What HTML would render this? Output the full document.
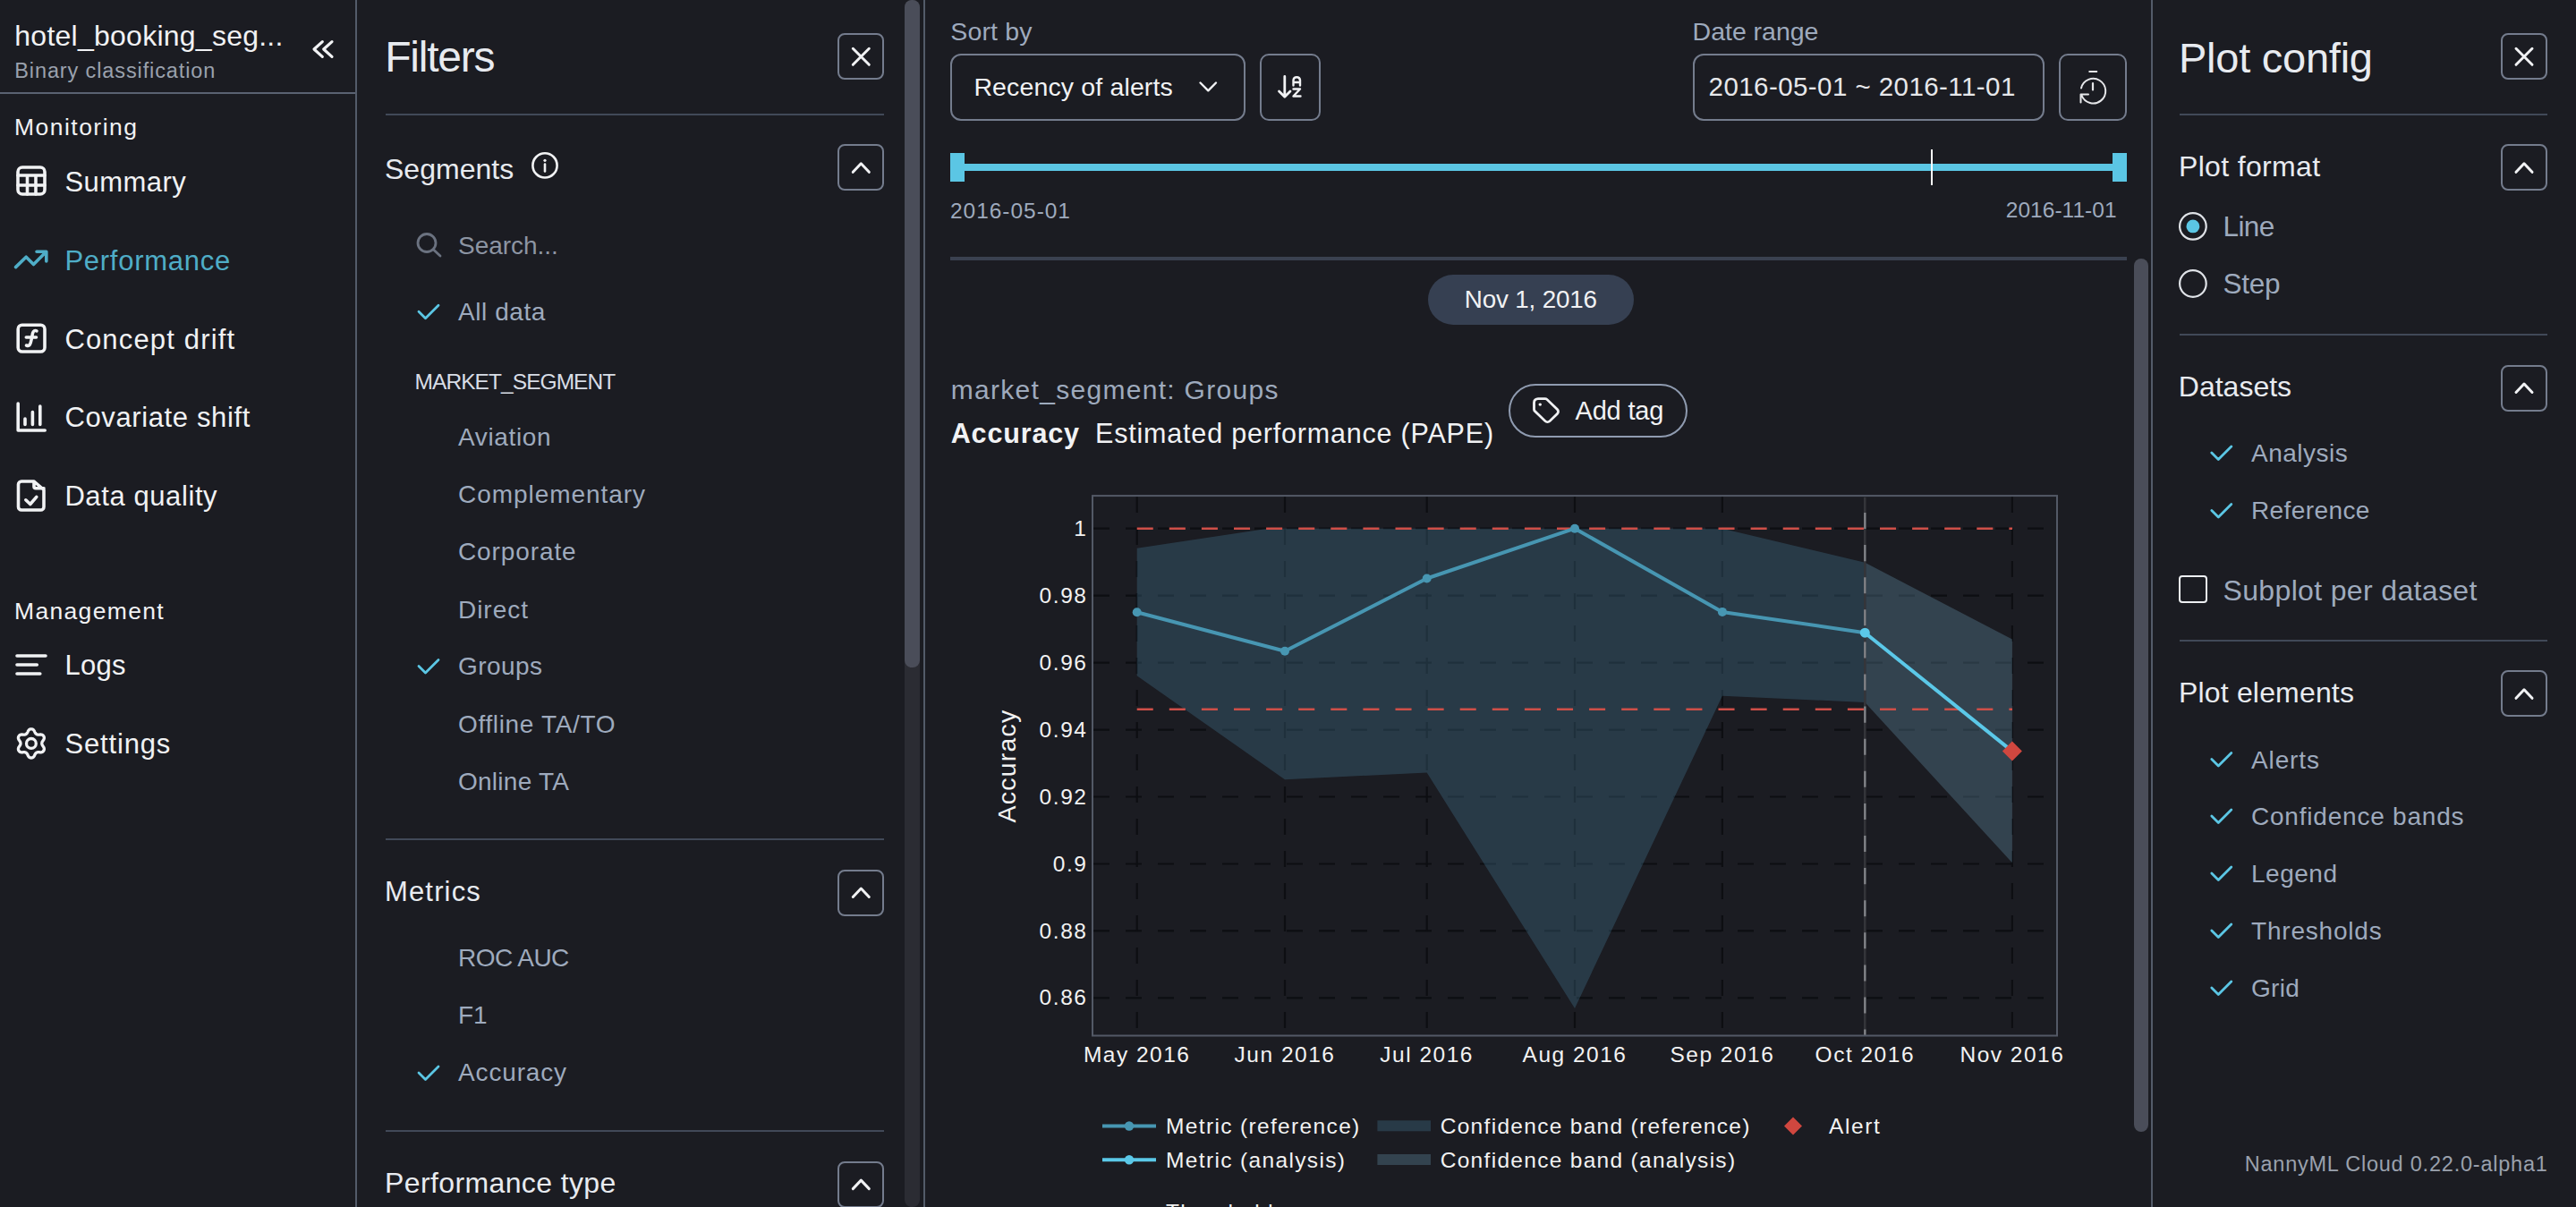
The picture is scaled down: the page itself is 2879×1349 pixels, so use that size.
<!DOCTYPE html><html><head><meta charset="utf-8"><style>
html,body{margin:0;padding:0;}
body{width:2879px;height:1349px;overflow:hidden;background:#1b1c22;position:relative;font-family:"Liberation Sans",sans-serif;}
.t{position:absolute;white-space:pre;line-height:1;}
svg{display:block}
</style></head><body>
<div style="position:absolute;left:397.0px;top:0.0px;width:2.0px;height:1349.0px;background:#535b69"></div>
<div class="t" style="left:16.3px;top:23.9px;font-size:32px;color:#f1f2f4;font-weight:400;letter-spacing:0.25px;">hotel_booking_seg...</div>
<div class="t" style="left:16.3px;top:68.0px;font-size:23.5px;color:#9aa1ad;font-weight:400;letter-spacing:0.88px;">Binary classification</div>
<div style="position:absolute;left:0.0px;top:103.0px;width:397.0px;height:2.0px;background:#5a6272"></div>
<svg style="position:absolute;left:0px;top:0px;overflow:visible;" width="1" height="1" viewBox="0 0 1 1"><path d="M360.3 46.6 L351 55 L360.3 63.4 M371 46.6 L361.7 55 L371 63.4" fill="none" stroke="#f1f2f4" stroke-width="3.2" stroke-linecap="round" stroke-linejoin="round"/></svg>
<div class="t" style="left:16.0px;top:128.6px;font-size:26.5px;color:#f1f2f4;font-weight:400;letter-spacing:1.47px;">Monitoring</div>
<div class="t" style="left:72.4px;top:188.0px;font-size:31px;color:#f1f2f4;font-weight:400;letter-spacing:0.44px;">Summary</div>
<div class="t" style="left:72.4px;top:275.5px;font-size:31px;color:#4fadc7;font-weight:400;letter-spacing:0.73px;">Performance</div>
<div class="t" style="left:72.4px;top:363.5px;font-size:31px;color:#f1f2f4;font-weight:400;letter-spacing:1.17px;">Concept drift</div>
<div class="t" style="left:72.4px;top:451.3px;font-size:31px;color:#f1f2f4;font-weight:400;letter-spacing:0.63px;">Covariate shift</div>
<div class="t" style="left:72.4px;top:538.8px;font-size:31px;color:#f1f2f4;font-weight:400;letter-spacing:0.59px;">Data quality</div>
<div class="t" style="left:16.0px;top:670.2px;font-size:26.5px;color:#f1f2f4;font-weight:400;letter-spacing:1.33px;">Management</div>
<div class="t" style="left:72.4px;top:728.2px;font-size:31px;color:#f1f2f4;font-weight:400;letter-spacing:0.29px;">Logs</div>
<div class="t" style="left:72.4px;top:816.3px;font-size:31px;color:#f1f2f4;font-weight:400;letter-spacing:0.85px;">Settings</div>
<svg style="position:absolute;left:0px;top:0px;overflow:visible;" width="1" height="1" viewBox="0 0 1 1"><rect x="20" y="187" width="30" height="30" rx="5" fill="none" stroke="#f1f2f4" stroke-width="3.6" stroke-linecap="round" stroke-linejoin="round"/><path d="M20 196 H50 M20 207 H50 M30.5 196 V217 M40 196 V217" fill="none" stroke="#f1f2f4" stroke-width="3.6" stroke-linecap="round" stroke-linejoin="round"/></svg>
<svg style="position:absolute;left:0px;top:0px;overflow:visible;" width="1" height="1" viewBox="0 0 1 1"><path d="M17.5 298.6 L29.2 287.2 L37.5 295.5 L51.5 281.5 M41 281.3 H51.8 V292" fill="none" stroke="#4fadc7" stroke-width="3.6" stroke-linecap="round" stroke-linejoin="round"/></svg>
<svg style="position:absolute;left:0px;top:0px;overflow:visible;" width="1" height="1" viewBox="0 0 1 1"><rect x="20.2" y="363.2" width="29.8" height="29.8" rx="4.5" fill="none" stroke="#f1f2f4" stroke-width="3.6" stroke-linecap="round" stroke-linejoin="round"/><path d="M29.5 386 C33 387.5 34 385 35 380 L36.5 372.5 C37.3 369.5 39 369 41 369.8 M29.3 377 H40.5" fill="none" stroke="#f1f2f4" stroke-width="3.6" stroke-linecap="round" stroke-linejoin="round" /></svg>
<svg style="position:absolute;left:0px;top:0px;overflow:visible;" width="1" height="1" viewBox="0 0 1 1"><path d="M20.2 451 V481 H50.2 M28 468 V474.5 M36.4 460.5 V474.5 M44.8 454 V474.5" fill="none" stroke="#f1f2f4" stroke-width="3.6" stroke-linecap="round" stroke-linejoin="round"/></svg>
<svg style="position:absolute;left:0px;top:0px;overflow:visible;" width="1" height="1" viewBox="0 0 1 1"><path d="M38 538 H24 A3.5 3.5 0 0 0 20.5 541.5 V566.5 A3.5 3.5 0 0 0 24 570 H45.5 A3.5 3.5 0 0 0 49 566.5 V547.5 Z M38 538 V543.8 A2 2 0 0 0 40 545.8 H49 M28.8 558.8 L33.8 563.5 L40.8 555.4" fill="none" stroke="#f1f2f4" stroke-width="3.6" stroke-linecap="round" stroke-linejoin="round"/></svg>
<svg style="position:absolute;left:0px;top:0px;overflow:visible;" width="1" height="1" viewBox="0 0 1 1"><path d="M19 733 H51 M19 743 H41.3 M19 753 H44.8" fill="none" stroke="#f1f2f4" stroke-width="3.6" stroke-linecap="round" stroke-linejoin="round"/></svg>
<svg style="position:absolute;left:0px;top:0px;overflow:visible;" width="1" height="1" viewBox="0 0 1 1"><polygon points="34.90,814.80 35.04,814.80 35.18,814.81 35.32,814.82 35.46,814.84 35.60,814.86 35.74,814.89 35.88,814.92 36.01,814.96 36.15,815.00 36.29,815.05 36.42,815.10 36.55,815.16 36.69,815.23 36.81,815.30 36.94,815.38 37.07,815.47 37.19,815.57 37.31,815.67 37.43,815.78 37.55,815.89 37.66,816.02 37.77,816.15 37.87,816.29 37.98,816.43 38.08,816.58 38.17,816.73 38.26,816.89 38.35,817.05 38.44,817.21 38.52,817.38 38.60,817.54 38.68,817.71 38.76,817.87 38.83,818.03 38.91,818.19 38.98,818.34 39.05,818.49 39.12,818.63 39.19,818.77 39.27,818.91 39.34,819.03 39.41,819.16 39.48,819.27 39.55,819.38 39.63,819.49 39.70,819.59 39.78,819.69 39.85,819.78 39.93,819.86 40.01,819.95 40.09,820.02 40.17,820.10 40.25,820.17 40.33,820.24 40.42,820.30 40.50,820.37 40.59,820.43 40.67,820.49 40.76,820.54 40.85,820.59 40.94,820.65 41.03,820.69 41.13,820.74 41.22,820.78 41.32,820.83 41.42,820.87 41.52,820.90 41.62,820.94 41.73,820.97 41.83,821.00 41.94,821.03 42.06,821.05 42.17,821.07 42.29,821.09 42.42,821.10 42.55,821.11 42.68,821.12 42.82,821.12 42.96,821.13 43.10,821.12 43.25,821.12 43.41,821.11 43.57,821.10 43.74,821.09 43.91,821.07 44.08,821.06 44.25,821.04 44.43,821.03 44.62,821.01 44.80,821.00 44.98,820.99 45.17,820.98 45.35,820.98 45.54,820.98 45.72,820.99 45.89,821.00 46.07,821.02 46.24,821.04 46.41,821.07 46.57,821.11 46.73,821.15 46.88,821.20 47.03,821.25 47.18,821.31 47.32,821.37 47.45,821.44 47.58,821.52 47.70,821.60 47.82,821.68 47.93,821.77 48.04,821.87 48.15,821.96 48.25,822.06 48.35,822.17 48.44,822.27 48.53,822.38 48.61,822.50 48.69,822.61 48.77,822.73 48.84,822.85 48.91,822.97 48.98,823.10 49.03,823.23 49.09,823.35 49.14,823.49 49.19,823.62 49.23,823.76 49.27,823.89 49.30,824.03 49.32,824.18 49.34,824.32 49.36,824.46 49.36,824.61 49.36,824.76 49.36,824.91 49.34,825.06 49.32,825.22 49.30,825.37 49.26,825.53 49.22,825.69 49.17,825.85 49.11,826.01 49.04,826.17 48.97,826.33 48.89,826.49 48.81,826.65 48.72,826.81 48.62,826.97 48.52,827.12 48.42,827.28 48.32,827.43 48.22,827.58 48.11,827.73 48.01,827.87 47.91,828.02 47.82,828.15 47.72,828.29 47.63,828.42 47.55,828.56 47.47,828.68 47.39,828.81 47.32,828.93 47.26,829.05 47.20,829.17 47.15,829.29 47.10,829.40 47.05,829.52 47.01,829.63 46.97,829.74 46.94,829.85 46.91,829.95 46.89,830.06 46.87,830.17 46.85,830.27 46.83,830.38 46.82,830.48 46.81,830.59 46.81,830.69 46.80,830.80 46.80,830.90 46.80,831.00 46.81,831.11 46.81,831.21 46.82,831.32 46.83,831.42 46.85,831.53 46.87,831.63 46.89,831.74 46.91,831.85 46.94,831.95 46.97,832.06 47.01,832.17 47.05,832.28 47.10,832.40 47.15,832.51 47.20,832.63 47.26,832.75 47.32,832.87 47.39,832.99 47.47,833.12 47.55,833.24 47.63,833.38 47.72,833.51 47.82,833.65 47.91,833.78 48.01,833.93 48.11,834.07 48.22,834.22 48.32,834.37 48.42,834.52 48.52,834.68 48.62,834.83 48.72,834.99 48.81,835.15 48.89,835.31 48.97,835.47 49.04,835.63 49.11,835.79 49.17,835.95 49.22,836.11 49.26,836.27 49.30,836.43 49.32,836.58 49.34,836.74 49.36,836.89 49.36,837.04 49.36,837.19 49.36,837.34 49.34,837.48 49.32,837.62 49.30,837.77 49.27,837.91 49.23,838.04 49.19,838.18 49.14,838.31 49.09,838.45 49.03,838.57 48.98,838.70 48.91,838.83 48.84,838.95 48.77,839.07 48.69,839.19 48.61,839.30 48.53,839.42 48.44,839.53 48.35,839.63 48.25,839.74 48.15,839.84 48.04,839.93 47.93,840.03 47.82,840.12 47.70,840.20 47.58,840.28 47.45,840.36 47.32,840.43 47.18,840.49 47.03,840.55 46.88,840.60 46.73,840.65 46.57,840.69 46.41,840.73 46.24,840.76 46.07,840.78 45.89,840.80 45.72,840.81 45.54,840.82 45.35,840.82 45.17,840.82 44.98,840.81 44.80,840.80 44.62,840.79 44.43,840.77 44.25,840.76 44.08,840.74 43.91,840.73 43.74,840.71 43.57,840.70 43.41,840.69 43.25,840.68 43.10,840.68 42.96,840.67 42.82,840.68 42.68,840.68 42.55,840.69 42.42,840.70 42.29,840.71 42.17,840.73 42.06,840.75 41.94,840.77 41.83,840.80 41.73,840.83 41.62,840.86 41.52,840.90 41.42,840.93 41.32,840.97 41.22,841.02 41.13,841.06 41.03,841.11 40.94,841.15 40.85,841.21 40.76,841.26 40.67,841.31 40.59,841.37 40.50,841.43 40.42,841.50 40.33,841.56 40.25,841.63 40.17,841.70 40.09,841.78 40.01,841.85 39.93,841.94 39.85,842.02 39.78,842.11 39.70,842.21 39.63,842.31 39.55,842.42 39.48,842.53 39.41,842.64 39.34,842.77 39.27,842.89 39.19,843.03 39.12,843.17 39.05,843.31 38.98,843.46 38.91,843.61 38.83,843.77 38.76,843.93 38.68,844.09 38.60,844.26 38.52,844.42 38.44,844.59 38.35,844.75 38.26,844.91 38.17,845.07 38.08,845.22 37.98,845.37 37.87,845.51 37.77,845.65 37.66,845.78 37.55,845.91 37.43,846.02 37.31,846.13 37.19,846.23 37.07,846.33 36.94,846.42 36.81,846.50 36.69,846.57 36.55,846.64 36.42,846.70 36.29,846.75 36.15,846.80 36.01,846.84 35.88,846.88 35.74,846.91 35.60,846.94 35.46,846.96 35.32,846.98 35.18,846.99 35.04,847.00 34.90,847.00 34.76,847.00 34.62,846.99 34.48,846.98 34.34,846.96 34.20,846.94 34.06,846.91 33.92,846.88 33.79,846.84 33.65,846.80 33.51,846.75 33.38,846.70 33.25,846.64 33.11,846.57 32.99,846.50 32.86,846.42 32.73,846.33 32.61,846.23 32.49,846.13 32.37,846.02 32.25,845.91 32.14,845.78 32.03,845.65 31.93,845.51 31.82,845.37 31.72,845.22 31.63,845.07 31.54,844.91 31.45,844.75 31.36,844.59 31.28,844.42 31.20,844.26 31.12,844.09 31.04,843.93 30.97,843.77 30.89,843.61 30.82,843.46 30.75,843.31 30.68,843.17 30.61,843.03 30.53,842.89 30.46,842.77 30.39,842.64 30.32,842.53 30.25,842.42 30.17,842.31 30.10,842.21 30.02,842.11 29.95,842.02 29.87,841.94 29.79,841.85 29.71,841.78 29.63,841.70 29.55,841.63 29.47,841.56 29.38,841.50 29.30,841.43 29.21,841.37 29.13,841.31 29.04,841.26 28.95,841.21 28.86,841.15 28.77,841.11 28.67,841.06 28.58,841.02 28.48,840.97 28.38,840.93 28.28,840.90 28.18,840.86 28.07,840.83 27.97,840.80 27.86,840.77 27.74,840.75 27.63,840.73 27.51,840.71 27.38,840.70 27.25,840.69 27.12,840.68 26.98,840.68 26.84,840.67 26.70,840.68 26.55,840.68 26.39,840.69 26.23,840.70 26.06,840.71 25.89,840.73 25.72,840.74 25.55,840.76 25.37,840.77 25.18,840.79 25.00,840.80 24.82,840.81 24.63,840.82 24.45,840.82 24.26,840.82 24.08,840.81 23.91,840.80 23.73,840.78 23.56,840.76 23.39,840.73 23.23,840.69 23.07,840.65 22.92,840.60 22.77,840.55 22.62,840.49 22.48,840.43 22.35,840.36 22.22,840.28 22.10,840.20 21.98,840.12 21.87,840.03 21.76,839.93 21.65,839.84 21.55,839.74 21.45,839.63 21.36,839.53 21.27,839.42 21.19,839.30 21.11,839.19 21.03,839.07 20.96,838.95 20.89,838.83 20.82,838.70 20.77,838.57 20.71,838.45 20.66,838.31 20.61,838.18 20.57,838.04 20.53,837.91 20.50,837.77 20.48,837.62 20.46,837.48 20.44,837.34 20.44,837.19 20.44,837.04 20.44,836.89 20.46,836.74 20.48,836.58 20.50,836.43 20.54,836.27 20.58,836.11 20.63,835.95 20.69,835.79 20.76,835.63 20.83,835.47 20.91,835.31 20.99,835.15 21.08,834.99 21.18,834.83 21.28,834.68 21.38,834.52 21.48,834.37 21.58,834.22 21.69,834.07 21.79,833.93 21.89,833.78 21.98,833.65 22.08,833.51 22.17,833.38 22.25,833.24 22.33,833.12 22.41,832.99 22.48,832.87 22.54,832.75 22.60,832.63 22.65,832.51 22.70,832.40 22.75,832.28 22.79,832.17 22.83,832.06 22.86,831.95 22.89,831.85 22.91,831.74 22.93,831.63 22.95,831.53 22.97,831.42 22.98,831.32 22.99,831.21 22.99,831.11 23.00,831.00 23.00,830.90 23.00,830.80 22.99,830.69 22.99,830.59 22.98,830.48 22.97,830.38 22.95,830.27 22.93,830.17 22.91,830.06 22.89,829.95 22.86,829.85 22.83,829.74 22.79,829.63 22.75,829.52 22.70,829.40 22.65,829.29 22.60,829.17 22.54,829.05 22.48,828.93 22.41,828.81 22.33,828.68 22.25,828.56 22.17,828.42 22.08,828.29 21.98,828.15 21.89,828.02 21.79,827.87 21.69,827.73 21.58,827.58 21.48,827.43 21.38,827.28 21.28,827.12 21.18,826.97 21.08,826.81 20.99,826.65 20.91,826.49 20.83,826.33 20.76,826.17 20.69,826.01 20.63,825.85 20.58,825.69 20.54,825.53 20.50,825.37 20.48,825.22 20.46,825.06 20.44,824.91 20.44,824.76 20.44,824.61 20.44,824.46 20.46,824.32 20.48,824.18 20.50,824.03 20.53,823.89 20.57,823.76 20.61,823.62 20.66,823.49 20.71,823.35 20.77,823.23 20.82,823.10 20.89,822.97 20.96,822.85 21.03,822.73 21.11,822.61 21.19,822.50 21.27,822.38 21.36,822.27 21.45,822.17 21.55,822.06 21.65,821.96 21.76,821.87 21.87,821.77 21.98,821.68 22.10,821.60 22.22,821.52 22.35,821.44 22.48,821.37 22.62,821.31 22.77,821.25 22.92,821.20 23.07,821.15 23.23,821.11 23.39,821.07 23.56,821.04 23.73,821.02 23.91,821.00 24.08,820.99 24.26,820.98 24.45,820.98 24.63,820.98 24.82,820.99 25.00,821.00 25.18,821.01 25.37,821.03 25.55,821.04 25.72,821.06 25.89,821.07 26.06,821.09 26.23,821.10 26.39,821.11 26.55,821.12 26.70,821.12 26.84,821.13 26.98,821.12 27.12,821.12 27.25,821.11 27.38,821.10 27.51,821.09 27.63,821.07 27.74,821.05 27.86,821.03 27.97,821.00 28.07,820.97 28.18,820.94 28.28,820.90 28.38,820.87 28.48,820.83 28.58,820.78 28.67,820.74 28.77,820.69 28.86,820.65 28.95,820.59 29.04,820.54 29.13,820.49 29.21,820.43 29.30,820.37 29.38,820.30 29.47,820.24 29.55,820.17 29.63,820.10 29.71,820.02 29.79,819.95 29.87,819.86 29.95,819.78 30.02,819.69 30.10,819.59 30.17,819.49 30.25,819.38 30.32,819.27 30.39,819.16 30.46,819.03 30.53,818.91 30.61,818.77 30.68,818.63 30.75,818.49 30.82,818.34 30.89,818.19 30.97,818.03 31.04,817.87 31.12,817.71 31.20,817.54 31.28,817.38 31.36,817.21 31.45,817.05 31.54,816.89 31.63,816.73 31.72,816.58 31.82,816.43 31.93,816.29 32.03,816.15 32.14,816.02 32.25,815.89 32.37,815.78 32.49,815.67 32.61,815.57 32.73,815.47 32.86,815.38 32.99,815.30 33.11,815.23 33.25,815.16 33.38,815.10 33.51,815.05 33.65,815.00 33.79,814.96 33.92,814.92 34.06,814.89 34.20,814.86 34.34,814.84 34.48,814.82 34.62,814.81 34.76,814.80" fill="none" stroke="#f1f2f4" stroke-width="3.3" stroke-linejoin="round"/><circle cx="34.9" cy="830.9" r="5.4" fill="none" stroke="#f1f2f4" stroke-width="3.3"/></svg>
<div style="position:absolute;left:1032.0px;top:0.0px;width:2.0px;height:1349.0px;background:#535b69"></div>
<div style="position:absolute;left:1011.0px;top:0.0px;width:17.0px;height:1349.0px;background:#2b2c33;border-radius:8px"></div>
<div style="position:absolute;left:1011.0px;top:0.0px;width:17.0px;height:746.0px;background:#4a4d59;border-radius:8px"></div>
<div class="t" style="left:430.2px;top:40.4px;font-size:48px;color:#e8ebf0;font-weight:400;letter-spacing:-1.23px;">Filters</div>
<div style="position:absolute;left:936.3px;top:37.3px;width:52.0px;height:52.0px;box-sizing:border-box;border:2px solid #747c8d;border-radius:8px"></div>
<svg style="position:absolute;left:0px;top:0px;overflow:visible;" width="1" height="1" viewBox="0 0 1 1"><path d="M953.3 54.3 L971.3 72.3 M971.3 54.3 L953.3 72.3" fill="none" stroke="#f1f2f4" stroke-width="3" stroke-linecap="round"/></svg>
<div style="position:absolute;left:431.0px;top:127.0px;width:557.0px;height:2.0px;background:#414958"></div>
<div class="t" style="left:430.0px;top:173.4px;font-size:32px;color:#e8ebf0;font-weight:400;letter-spacing:0.02px;">Segments</div>
<svg style="position:absolute;left:0px;top:0px;overflow:visible;" width="1" height="1" viewBox="0 0 1 1"><circle cx="609" cy="184.9" r="13.6" fill="none" stroke="#f1f2f4" stroke-width="2.6"/><path d="M609 183.5 V191.5" stroke="#f1f2f4" stroke-width="2.6" stroke-linecap="round"/><circle cx="609" cy="179.3" r="1.6" fill="#f1f2f4"/></svg>
<div style="position:absolute;left:936.3px;top:161.3px;width:52.0px;height:52.0px;box-sizing:border-box;border:2px solid #747c8d;border-radius:8px"></div>
<svg style="position:absolute;left:0px;top:0px;overflow:visible;" width="1" height="1" viewBox="0 0 1 1"><path d="M953.3 192.3 L962.3 182.8 L971.3 192.3" fill="none" stroke="#f1f2f4" stroke-width="3" stroke-linecap="round" stroke-linejoin="round"/></svg>
<svg style="position:absolute;left:0px;top:0px;overflow:visible;" width="1" height="1" viewBox="0 0 1 1"><circle cx="477" cy="271.5" r="10" fill="none" stroke="#6b7280" stroke-width="2.8"/><path d="M484.5 279 L492 286" stroke="#6b7280" stroke-width="2.8" stroke-linecap="round"/></svg>
<div class="t" style="left:512.0px;top:260.7px;font-size:28px;color:#8d95a3;font-weight:400;letter-spacing:-0.05px;">Search...</div>
<svg style="position:absolute;left:0px;top:0px;overflow:visible;" width="1" height="1" viewBox="0 0 1 1"><path d="M468 348.2 L475.5 355.7 L490 341.2" fill="none" stroke="#5bc6e4" stroke-width="2.8" stroke-linecap="round" stroke-linejoin="round"/></svg>
<div class="t" style="left:512.0px;top:334.9px;font-size:28px;color:#9eaabd;font-weight:400;letter-spacing:0.57px;">All data</div>
<div class="t" style="left:463.6px;top:415.0px;font-size:24.5px;color:#d8dde6;font-weight:400;letter-spacing:-0.94px;">MARKET_SEGMENT</div>
<div class="t" style="left:512.0px;top:475.2px;font-size:28px;color:#9eaabd;font-weight:400;letter-spacing:0.64px;">Aviation</div>
<div class="t" style="left:512.0px;top:539.0px;font-size:28px;color:#9eaabd;font-weight:400;letter-spacing:0.95px;">Complementary</div>
<div class="t" style="left:512.0px;top:603.3px;font-size:28px;color:#9eaabd;font-weight:400;letter-spacing:0.89px;">Corporate</div>
<div class="t" style="left:512.0px;top:667.9px;font-size:28px;color:#9eaabd;font-weight:400;letter-spacing:0.96px;">Direct</div>
<div class="t" style="left:512.0px;top:730.8px;font-size:28px;color:#9eaabd;font-weight:400;letter-spacing:0.45px;">Groups</div>
<div class="t" style="left:512.0px;top:796.0px;font-size:28px;color:#9eaabd;font-weight:400;letter-spacing:0.67px;">Offline TA/TO</div>
<div class="t" style="left:512.0px;top:859.6px;font-size:28px;color:#9eaabd;font-weight:400;letter-spacing:0.26px;">Online TA</div>
<svg style="position:absolute;left:0px;top:0px;overflow:visible;" width="1" height="1" viewBox="0 0 1 1"><path d="M468 744.5 L475.5 752 L490 737.5" fill="none" stroke="#5bc6e4" stroke-width="2.8" stroke-linecap="round" stroke-linejoin="round"/></svg>
<div style="position:absolute;left:431.0px;top:937.0px;width:557.0px;height:2.0px;background:#414958"></div>
<div class="t" style="left:430.0px;top:980.8px;font-size:31px;color:#e8ebf0;font-weight:400;letter-spacing:1.15px;">Metrics</div>
<div style="position:absolute;left:936.3px;top:971.5px;width:52.0px;height:52.0px;box-sizing:border-box;border:2px solid #747c8d;border-radius:8px"></div>
<svg style="position:absolute;left:0px;top:0px;overflow:visible;" width="1" height="1" viewBox="0 0 1 1"><path d="M953.3 1002.5 L962.3 993.0 L971.3 1002.5" fill="none" stroke="#f1f2f4" stroke-width="3" stroke-linecap="round" stroke-linejoin="round"/></svg>
<div class="t" style="left:512.0px;top:1057.1px;font-size:28px;color:#9eaabd;font-weight:400;letter-spacing:-0.55px;">ROC AUC</div>
<div class="t" style="left:512.0px;top:1121.3px;font-size:28px;color:#9eaabd;font-weight:400;letter-spacing:0px;">F1</div>
<svg style="position:absolute;left:0px;top:0px;overflow:visible;" width="1" height="1" viewBox="0 0 1 1"><path d="M468 1199.0 L475.5 1206.5 L490 1192.0" fill="none" stroke="#5bc6e4" stroke-width="2.8" stroke-linecap="round" stroke-linejoin="round"/></svg>
<div class="t" style="left:512.0px;top:1185.3px;font-size:28px;color:#9eaabd;font-weight:400;letter-spacing:0.85px;">Accuracy</div>
<div style="position:absolute;left:431.0px;top:1263.0px;width:557.0px;height:2.0px;background:#414958"></div>
<div class="t" style="left:430.0px;top:1306.3px;font-size:32px;color:#e8ebf0;font-weight:400;letter-spacing:0.38px;">Performance type</div>
<div style="position:absolute;left:936.3px;top:1297.6px;width:52.0px;height:52.0px;box-sizing:border-box;border:2px solid #747c8d;border-radius:8px"></div>
<svg style="position:absolute;left:0px;top:0px;overflow:visible;" width="1" height="1" viewBox="0 0 1 1"><path d="M953.3 1328.6 L962.3 1319.1 L971.3 1328.6" fill="none" stroke="#f1f2f4" stroke-width="3" stroke-linecap="round" stroke-linejoin="round"/></svg>
<div style="position:absolute;left:2404.0px;top:0.0px;width:2.0px;height:1349.0px;background:#535b69"></div>
<div class="t" style="left:1062.3px;top:21.4px;font-size:28.5px;color:#9eaabd;font-weight:400;letter-spacing:0.15px;">Sort by</div>
<div style="position:absolute;left:1062.3px;top:59.5px;width:329.5px;height:75.0px;box-sizing:border-box;border:2px solid #747c8d;border-radius:12px"></div>
<div class="t" style="left:1088.4px;top:83.3px;font-size:28.5px;color:#f1f2f4;font-weight:400;letter-spacing:0.14px;">Recency of alerts</div>
<svg style="position:absolute;left:0px;top:0px;overflow:visible;" width="1" height="1" viewBox="0 0 1 1"><path d="M1341.5 92.5 L1350.3 101.3 L1359 92.5" fill="none" stroke="#f1f2f4" stroke-width="2.4" stroke-linecap="round" stroke-linejoin="round"/></svg>
<div style="position:absolute;left:1408.0px;top:59.5px;width:68.0px;height:75.0px;box-sizing:border-box;border:2px solid #747c8d;border-radius:10px"></div>
<svg style="position:absolute;left:0px;top:0px;overflow:visible;" width="1" height="1" viewBox="0 0 1 1"><path d="M1435.8 85.5 V108 M1429.5 102 L1435.8 108.3 L1442 102" fill="none" stroke="#f1f2f4" stroke-width="2.8" stroke-linecap="round" stroke-linejoin="round"/><path d="M1445.5 95.5 V89.5 A3.8 3.8 0 0 1 1453 89.5 V95.5 M1445.5 92 H1453 M1445.5 99.5 H1453 L1445.5 107.5 H1453.5" fill="none" stroke="#f1f2f4" stroke-width="2.4" stroke-linecap="round" stroke-linejoin="round"/></svg>
<div class="t" style="left:1891.6px;top:20.9px;font-size:28.5px;color:#9eaabd;font-weight:400;letter-spacing:-0.02px;">Date range</div>
<div style="position:absolute;left:1891.6px;top:59.5px;width:393.0px;height:75.0px;box-sizing:border-box;border:2px solid #747c8d;border-radius:12px"></div>
<div class="t" style="left:1909.6px;top:82.4px;font-size:29.5px;color:#e6e7ea;font-weight:400;letter-spacing:0.43px;">2016-05-01 ~ 2016-11-01</div>
<div style="position:absolute;left:2301.3px;top:59.5px;width:75.5px;height:75.0px;box-sizing:border-box;border:2px solid #747c8d;border-radius:10px"></div>
<svg style="position:absolute;left:0px;top:0px;overflow:visible;" width="1" height="1" viewBox="0 0 1 1"><path d="M2335.3 80 H2343.2 M2339 93 V100.5" fill="none" stroke="#e6e7ea" stroke-width="2.2" stroke-linecap="round"/><path d="M2326 98.5 A13.8 13.8 0 1 1 2326.5 106.5 M2325.5 105.6 H2334 M2325.5 105.6 V114.5" fill="none" stroke="#e6e7ea" stroke-width="2" stroke-linecap="round" stroke-linejoin="round"/></svg>
<div style="position:absolute;left:1078.0px;top:183.0px;width:1283.0px;height:8.0px;background:#5bc6e4"></div>
<div style="position:absolute;left:1062.0px;top:171.0px;width:16.0px;height:32.0px;background:#5bc6e4"></div>
<div style="position:absolute;left:2361.0px;top:171.0px;width:16.0px;height:32.0px;background:#5bc6e4"></div>
<div style="position:absolute;left:2158.0px;top:167.0px;width:2.2px;height:40.0px;background:#ffffff"></div>
<div class="t" style="left:1062.0px;top:223.6px;font-size:24.5px;color:#9eaabd;font-weight:400;letter-spacing:0.96px;">2016-05-01</div>
<div class="t" style="left:2241.8px;top:222.7px;font-size:24.5px;color:#9eaabd;font-weight:400;letter-spacing:0.03px;">2016-11-01</div>
<div style="position:absolute;left:1062.0px;top:287.0px;width:1315.0px;height:4.0px;background:#3a4150"></div>
<div style="position:absolute;left:2385.0px;top:289.0px;width:16.0px;height:976.0px;background:#4a4d59;border-radius:8px"></div>
<div style="position:absolute;left:1595.5px;top:306.8px;width:230.5px;height:56.0px;background:#364052;border-radius:28px"></div>
<div class="t" style="left:1636.8px;top:321.4px;font-size:27.8px;color:#f1f2f4;font-weight:400;letter-spacing:-0.17px;">Nov 1, 2016</div>
<div class="t" style="left:1062.7px;top:420.6px;font-size:30px;color:#9eaabd;font-weight:400;letter-spacing:1.3px;">market_segment: Groups</div>
<div class="t" style="left:1062.7px;top:468.6px;font-size:30.5px;color:#f1f2f4;font-weight:700;letter-spacing:0.85px;">Accuracy</div>
<div class="t" style="left:1224.0px;top:468.6px;font-size:30.5px;color:#f1f2f4;font-weight:400;letter-spacing:0.81px;">Estimated performance (PAPE)</div>
<div style="position:absolute;left:1686.4px;top:429.0px;width:199.2px;height:59.5px;box-sizing:border-box;border:2px solid #8f9bb0;border-radius:30px"></div>
<svg style="position:absolute;left:0px;top:0px;overflow:visible;" width="1" height="1" viewBox="0 0 1 1"><g transform="translate(1710 441.2) scale(1.5 1.45)"><path d="M3 6v5.172a2 2 0 0 0 .586 1.414l7.71 7.71a2.41 2.41 0 0 0 3.408 0l5.592 -5.592a2.41 2.41 0 0 0 0 -3.408l-7.71 -7.71a2 2 0 0 0 -1.414 -.586h-5.172a3 3 0 0 0 -3 3z" fill="none" stroke="#f1f2f4" stroke-width="1.9" stroke-linejoin="round"/><circle cx="7.5" cy="7.5" r="1.15" fill="#f1f2f4"/></g></svg>
<div class="t" style="left:1760.5px;top:444.5px;font-size:29px;color:#f1f2f4;font-weight:400;letter-spacing:-0.18px;">Add tag</div>
<div class="t" style="left:2435.0px;top:41.2px;font-size:47px;color:#e8ebf0;font-weight:400;letter-spacing:-0.25px;">Plot config</div>
<div style="position:absolute;left:2795.0px;top:37.3px;width:52.0px;height:52.0px;box-sizing:border-box;border:2px solid #747c8d;border-radius:8px"></div>
<svg style="position:absolute;left:0px;top:0px;overflow:visible;" width="1" height="1" viewBox="0 0 1 1"><path d="M2812 54.3 L2830 72.3 M2830 54.3 L2812 72.3" fill="none" stroke="#f1f2f4" stroke-width="3" stroke-linecap="round"/></svg>
<div style="position:absolute;left:2436.0px;top:127.0px;width:411.0px;height:2.0px;background:#414958"></div>
<div class="t" style="left:2435.0px;top:169.9px;font-size:32px;color:#e8ebf0;font-weight:400;letter-spacing:0.33px;">Plot format</div>
<div style="position:absolute;left:2795.0px;top:161.3px;width:52.0px;height:52.0px;box-sizing:border-box;border:2px solid #747c8d;border-radius:8px"></div>
<svg style="position:absolute;left:0px;top:0px;overflow:visible;" width="1" height="1" viewBox="0 0 1 1"><path d="M2812 192.3 L2821 182.8 L2830 192.3" fill="none" stroke="#f1f2f4" stroke-width="3" stroke-linecap="round" stroke-linejoin="round"/></svg>
<svg style="position:absolute;left:0px;top:0px;overflow:visible;" width="1" height="1" viewBox="0 0 1 1"><circle cx="2450.9" cy="252.9" r="14.8" fill="none" stroke="#dfe2e7" stroke-width="2.2"/><circle cx="2450.9" cy="252.9" r="7.4" fill="#5bc6e4"/><circle cx="2450.9" cy="317" r="14.8" fill="none" stroke="#dfe2e7" stroke-width="2.2"/></svg>
<div class="t" style="left:2484.6px;top:238.3px;font-size:31.5px;color:#9eaabd;font-weight:400;letter-spacing:-0.62px;">Line</div>
<div class="t" style="left:2484.6px;top:302.3px;font-size:31.5px;color:#9eaabd;font-weight:400;letter-spacing:-0.27px;">Step</div>
<div style="position:absolute;left:2436.0px;top:373.0px;width:411.0px;height:2.0px;background:#414958"></div>
<div class="t" style="left:2434.8px;top:415.9px;font-size:32px;color:#e8ebf0;font-weight:400;letter-spacing:0.0px;">Datasets</div>
<div style="position:absolute;left:2795.0px;top:407.5px;width:52.0px;height:52.0px;box-sizing:border-box;border:2px solid #747c8d;border-radius:8px"></div>
<svg style="position:absolute;left:0px;top:0px;overflow:visible;" width="1" height="1" viewBox="0 0 1 1"><path d="M2812 438.5 L2821 429.0 L2830 438.5" fill="none" stroke="#f1f2f4" stroke-width="3" stroke-linecap="round" stroke-linejoin="round"/></svg>
<svg style="position:absolute;left:0px;top:0px;overflow:visible;" width="1" height="1" viewBox="0 0 1 1"><path d="M2471.8 506.0 L2479.3 513.5 L2493.8 499.0" fill="none" stroke="#5bc6e4" stroke-width="2.8" stroke-linecap="round" stroke-linejoin="round"/></svg>
<div class="t" style="left:2516.0px;top:493.1px;font-size:28px;color:#9eaabd;font-weight:400;letter-spacing:0.49px;">Analysis</div>
<svg style="position:absolute;left:0px;top:0px;overflow:visible;" width="1" height="1" viewBox="0 0 1 1"><path d="M2471.8 570.5 L2479.3 578 L2493.8 563.5" fill="none" stroke="#5bc6e4" stroke-width="2.8" stroke-linecap="round" stroke-linejoin="round"/></svg>
<div class="t" style="left:2516.0px;top:557.3px;font-size:28px;color:#9eaabd;font-weight:400;letter-spacing:0.4px;">Reference</div>
<div style="position:absolute;left:2435.2px;top:643.3px;width:31.8px;height:31.0px;box-sizing:border-box;border:2.4px solid #eef0f3;border-radius:4px"></div>
<div class="t" style="left:2484.5px;top:644.4px;font-size:32px;color:#9eaabd;font-weight:400;letter-spacing:0.35px;">Subplot per dataset</div>
<div style="position:absolute;left:2436.0px;top:715.0px;width:411.0px;height:2.0px;background:#414958"></div>
<div class="t" style="left:2435.0px;top:758.2px;font-size:32px;color:#e8ebf0;font-weight:400;letter-spacing:0.17px;">Plot elements</div>
<div style="position:absolute;left:2795.0px;top:749.3px;width:52.0px;height:52.0px;box-sizing:border-box;border:2px solid #747c8d;border-radius:8px"></div>
<svg style="position:absolute;left:0px;top:0px;overflow:visible;" width="1" height="1" viewBox="0 0 1 1"><path d="M2812 780.3 L2821 770.8 L2830 780.3" fill="none" stroke="#f1f2f4" stroke-width="3" stroke-linecap="round" stroke-linejoin="round"/></svg>
<svg style="position:absolute;left:0px;top:0px;overflow:visible;" width="1" height="1" viewBox="0 0 1 1"><path d="M2471.8 848.6 L2479.3 856.1 L2493.8 841.6" fill="none" stroke="#5bc6e4" stroke-width="2.8" stroke-linecap="round" stroke-linejoin="round"/></svg>
<div class="t" style="left:2516.0px;top:835.9px;font-size:28px;color:#9eaabd;font-weight:400;letter-spacing:0.88px;">Alerts</div>
<svg style="position:absolute;left:0px;top:0px;overflow:visible;" width="1" height="1" viewBox="0 0 1 1"><path d="M2471.8 912.0 L2479.3 919.5 L2493.8 905.0" fill="none" stroke="#5bc6e4" stroke-width="2.8" stroke-linecap="round" stroke-linejoin="round"/></svg>
<div class="t" style="left:2516.0px;top:899.3px;font-size:28px;color:#9eaabd;font-weight:400;letter-spacing:0.79px;">Confidence bands</div>
<svg style="position:absolute;left:0px;top:0px;overflow:visible;" width="1" height="1" viewBox="0 0 1 1"><path d="M2471.8 976.0 L2479.3 983.5 L2493.8 969.0" fill="none" stroke="#5bc6e4" stroke-width="2.8" stroke-linecap="round" stroke-linejoin="round"/></svg>
<div class="t" style="left:2516.0px;top:963.3px;font-size:28px;color:#9eaabd;font-weight:400;letter-spacing:0.51px;">Legend</div>
<svg style="position:absolute;left:0px;top:0px;overflow:visible;" width="1" height="1" viewBox="0 0 1 1"><path d="M2471.8 1040.0 L2479.3 1047.5 L2493.8 1033.0" fill="none" stroke="#5bc6e4" stroke-width="2.8" stroke-linecap="round" stroke-linejoin="round"/></svg>
<div class="t" style="left:2516.0px;top:1027.3px;font-size:28px;color:#9eaabd;font-weight:400;letter-spacing:0.8px;">Thresholds</div>
<svg style="position:absolute;left:0px;top:0px;overflow:visible;" width="1" height="1" viewBox="0 0 1 1"><path d="M2471.8 1104.0 L2479.3 1111.5 L2493.8 1097.0" fill="none" stroke="#5bc6e4" stroke-width="2.8" stroke-linecap="round" stroke-linejoin="round"/></svg>
<div class="t" style="left:2516.0px;top:1091.3px;font-size:28px;color:#9eaabd;font-weight:400;letter-spacing:0.3px;">Grid</div>
<div class="t" style="left:2508.7px;top:1290.1px;font-size:23.5px;color:#9aa1ad;font-weight:400;letter-spacing:0.78px;">NannyML Cloud 0.22.0-alpha1</div>
<svg style="position:absolute;left:0px;top:0px;overflow:visible;" width="1" height="1" viewBox="0 0 1 1"><path d="M1222 1115.4 H2284" stroke="#0d0e12" stroke-width="2.2" stroke-dasharray="18 18"/><path d="M1222 1040.4 H2284" stroke="#0d0e12" stroke-width="2.2" stroke-dasharray="18 18"/><path d="M1222 965.5 H2284" stroke="#0d0e12" stroke-width="2.2" stroke-dasharray="18 18"/><path d="M1222 890.5 H2284" stroke="#0d0e12" stroke-width="2.2" stroke-dasharray="18 18"/><path d="M1222 815.6 H2284" stroke="#0d0e12" stroke-width="2.2" stroke-dasharray="18 18"/><path d="M1222 740.6 H2284" stroke="#0d0e12" stroke-width="2.2" stroke-dasharray="18 18"/><path d="M1222 665.7 H2284" stroke="#0d0e12" stroke-width="2.2" stroke-dasharray="18 18"/><path d="M1222 590.7 H2284" stroke="#0d0e12" stroke-width="2.2" stroke-dasharray="18 18"/><path d="M1270.7 555 V1157" stroke="#0d0e12" stroke-width="2.2" stroke-dasharray="18 18"/><path d="M1436.0 555 V1157" stroke="#0d0e12" stroke-width="2.2" stroke-dasharray="18 18"/><path d="M1594.7 555 V1157" stroke="#0d0e12" stroke-width="2.2" stroke-dasharray="18 18"/><path d="M1760.0 555 V1157" stroke="#0d0e12" stroke-width="2.2" stroke-dasharray="18 18"/><path d="M1924.9 555 V1157" stroke="#0d0e12" stroke-width="2.2" stroke-dasharray="18 18"/><path d="M2084.3 555 V1157" stroke="#0d0e12" stroke-width="2.2" stroke-dasharray="18 18"/><path d="M2248.9 555 V1157" stroke="#0d0e12" stroke-width="2.2" stroke-dasharray="18 18"/><polygon points="1270.7,612.8 1417.0,590.7 1436.0,590.7 1594.7,590.7 1760.0,590.7 1924.9,590.7 2084.3,628.7 2084.3,785.0 1924.9,777.7 1760.0,1127.0 1594.7,863.5 1436.0,871.2 1270.7,755.3" fill="rgb(72,130,158)" fill-opacity="0.3"/><polygon points="2084.3,628.7 2248.9,714.5 2248.9,964.3 2084.3,785.0" fill="rgb(108,160,184)" fill-opacity="0.3"/><path d="M1270.7 590.7 H2249" stroke="#cf4f48" stroke-width="2.6" stroke-dasharray="18.05 18.05"/><path d="M1270.7 792.7 H2249" stroke="#cf4f48" stroke-width="2.6" stroke-dasharray="18.05 18.05"/><path d="M2084.3 555.5 V1156" stroke="#34353a" stroke-width="2.6"/><path d="M2084.3 573 V1157" stroke="#85878c" stroke-width="2.2" stroke-dasharray="18.05 18.05"/><rect x="1221" y="554.1" width="1078" height="603.4" fill="none" stroke="#535966" stroke-width="2"/><polyline points="1270.7,684.2 1436.0,727.7 1594.7,646.5 1760.0,590.7 1924.9,683.9 2084.3,707.2" fill="none" stroke="#4796b2" stroke-width="4" stroke-linejoin="round"/><circle cx="1270.7" cy="684.2" r="5" fill="#4796b2"/><circle cx="1436.0" cy="727.7" r="5" fill="#4796b2"/><circle cx="1594.7" cy="646.5" r="5" fill="#4796b2"/><circle cx="1760.0" cy="590.7" r="5" fill="#4796b2"/><circle cx="1924.9" cy="683.9" r="5" fill="#4796b2"/><path d="M2084.3 707.2 L2248.9 839.6" stroke="#5bc8e8" stroke-width="4"/><circle cx="2084.3" cy="707.2" r="5.5" fill="#5bc8e8"/><path d="M2248.9 828.6 L2259.9 839.6 L2248.9 850.6 L2237.9 839.6 Z" fill="#d0473f"/></svg>
<div class="t" style="left:1100px;width:114px;text-align:right;top:1103.4px;font-size:24.5px;color:#f2f2f2;letter-spacing:1.6px;"><span style="margin-right:-1.6px">0.86</span></div>
<div class="t" style="left:1100px;width:114px;text-align:right;top:1028.5px;font-size:24.5px;color:#f2f2f2;letter-spacing:1.6px;"><span style="margin-right:-1.6px">0.88</span></div>
<div class="t" style="left:1100px;width:114px;text-align:right;top:953.5px;font-size:24.5px;color:#f2f2f2;letter-spacing:1.6px;"><span style="margin-right:-1.6px">0.9</span></div>
<div class="t" style="left:1100px;width:114px;text-align:right;top:878.6px;font-size:24.5px;color:#f2f2f2;letter-spacing:1.6px;"><span style="margin-right:-1.6px">0.92</span></div>
<div class="t" style="left:1100px;width:114px;text-align:right;top:803.6px;font-size:24.5px;color:#f2f2f2;letter-spacing:1.6px;"><span style="margin-right:-1.6px">0.94</span></div>
<div class="t" style="left:1100px;width:114px;text-align:right;top:728.7px;font-size:24.5px;color:#f2f2f2;letter-spacing:1.6px;"><span style="margin-right:-1.6px">0.96</span></div>
<div class="t" style="left:1100px;width:114px;text-align:right;top:653.7px;font-size:24.5px;color:#f2f2f2;letter-spacing:1.6px;"><span style="margin-right:-1.6px">0.98</span></div>
<div class="t" style="left:1100px;width:114px;text-align:right;top:578.8px;font-size:24.5px;color:#f2f2f2;letter-spacing:1.6px;"><span style="margin-right:-1.6px">1</span></div>
<div class="t" style="left:1170.7px;width:200px;text-align:center;top:1167.0px;font-size:24.5px;color:#f2f2f2;letter-spacing:1.5px;">May 2016</div>
<div class="t" style="left:1336.0px;width:200px;text-align:center;top:1167.0px;font-size:24.5px;color:#f2f2f2;letter-spacing:1.5px;">Jun 2016</div>
<div class="t" style="left:1494.7px;width:200px;text-align:center;top:1167.0px;font-size:24.5px;color:#f2f2f2;letter-spacing:1.5px;">Jul 2016</div>
<div class="t" style="left:1660.0px;width:200px;text-align:center;top:1167.0px;font-size:24.5px;color:#f2f2f2;letter-spacing:1.5px;">Aug 2016</div>
<div class="t" style="left:1824.9px;width:200px;text-align:center;top:1167.0px;font-size:24.5px;color:#f2f2f2;letter-spacing:1.5px;">Sep 2016</div>
<div class="t" style="left:1984.3px;width:200px;text-align:center;top:1167.0px;font-size:24.5px;color:#f2f2f2;letter-spacing:1.5px;">Oct 2016</div>
<div class="t" style="left:2148.9px;width:200px;text-align:center;top:1167.0px;font-size:24.5px;color:#f2f2f2;letter-spacing:1.5px;">Nov 2016</div>
<div class="t" style="left:1024.5px;top:842px;width:200px;text-align:center;font-size:28.5px;color:#f2f2f2;letter-spacing:1.2px;transform:rotate(-90deg);transform-origin:100px 14px;">Accuracy</div>
<svg style="position:absolute;left:0px;top:0px;overflow:visible;" width="1" height="1" viewBox="0 0 1 1"><path d="M1232 1258.5 H1292" stroke="#4796b2" stroke-width="4"/><circle cx="1262" cy="1258.5" r="5.2" fill="#4796b2"/><path d="M1232 1296.2 H1292" stroke="#5bc8e8" stroke-width="4"/><circle cx="1262" cy="1296.2" r="5.2" fill="#5bc8e8"/><rect x="1539.4" y="1252.3" width="59.6" height="12" fill="rgb(72,130,158)" fill-opacity="0.3"/><rect x="1539.4" y="1290" width="59.6" height="12" fill="rgb(108,160,184)" fill-opacity="0.3"/><path d="M2004 1248.5 L2014 1258.5 L2004 1268.5 L1994 1258.5 Z" fill="#d0473f"/></svg>
<div class="t" style="left:1303px;top:1247.2px;font-size:24.5px;color:#f2f2f2;letter-spacing:1.35px;">Metric (reference)</div>
<div class="t" style="left:1303px;top:1285.2px;font-size:24.5px;color:#f2f2f2;letter-spacing:1.35px;">Metric (analysis)</div>
<div class="t" style="left:1609.7px;top:1247.2px;font-size:24.5px;color:#f2f2f2;letter-spacing:1.3px;">Confidence band (reference)</div>
<div class="t" style="left:1609.7px;top:1285.2px;font-size:24.5px;color:#f2f2f2;letter-spacing:1.3px;">Confidence band (analysis)</div>
<div class="t" style="left:2044px;top:1247.2px;font-size:24.5px;color:#f2f2f2;letter-spacing:1.6px;">Alert</div>
<div class="t" style="left:1303px;top:1343.3px;font-size:24.5px;color:#f2f2f2;letter-spacing:1.35px;">Thresholds</div>
</body></html>
